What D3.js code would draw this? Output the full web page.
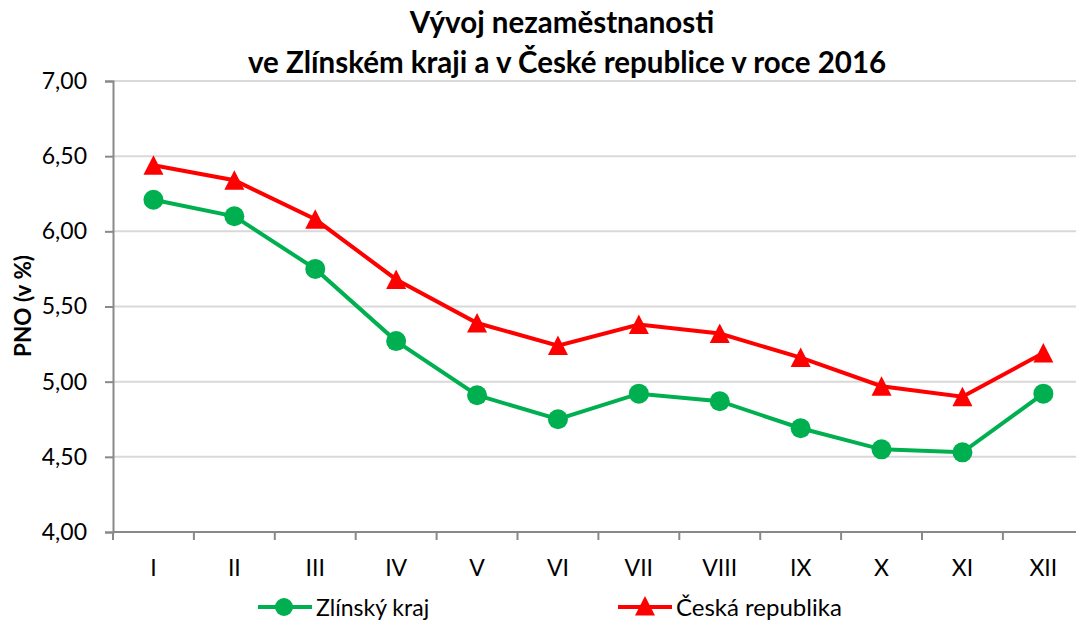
<!DOCTYPE html>
<html>
<head>
<meta charset="utf-8">
<script src="https://cdn.jsdelivr.net/npm/d3@7"></script>
<style>
  body { margin: 0; background: #fff; }
  svg { font-family: Lato, "Open Sans", sans-serif; }
</style>
</head>
<body>
<div id="chart"></div>
<script>
// data
var months = ["I", "II", "III", "IV", "V", "VI", "VII", "VIII", "IX", "X", "XI", "XII"];
var zlinValues = [6.21, 6.10, 5.75, 5.27, 4.91, 4.75, 4.92, 4.87, 4.69, 4.55, 4.53, 4.92];
var czValues = [6.44, 6.34, 6.08, 5.68, 5.39, 5.24, 5.38, 5.32, 5.16, 4.97, 4.90, 5.19];
var yTicks = [4.0, 4.5, 5.0, 5.5, 6.0, 6.5, 7.0];
var seriesNames = ["Zlínský kraj", "Česká republika"];

var svgWidth = 1076;
var svgHeight = 621;

var margin = { top: 81, left: 113, bottom: 89 };
var plotRight = 113 + 12 * 80.9;

var svg = d3.select("#chart")
  .append("svg")
  .attr("width", svgWidth)
  .attr("height", svgHeight);

var x = d3.scaleBand()
  .domain(months)
  .range([margin.left, plotRight]);

var y = d3.scaleLinear()
  .domain([4, 7])
  .range([svgHeight - margin.bottom, margin.top]);

var cz = d3.formatLocale({ decimal: ",", thousands: " ", grouping: [3], currency: ["", " Kč"] });
var fmt = cz.format(".2f");

// gridlines
svg.append("g")
  .selectAll("line")
  .data(yTicks.filter(d => d > 4))
  .enter()
  .append("line")
  .attr("x1", margin.left)
  .attr("x2", plotRight)
  .attr("y1", d => y(d))
  .attr("y2", d => y(d))
  .attr("stroke", "#d9d9d9")
  .attr("stroke-width", 2);

// y axis
var yAxis = svg.append("g")
  .attr("transform", `translate(${margin.left},0)`)
  .call(d3.axisLeft(y).tickValues(yTicks).tickFormat(fmt).tickSize(8).tickPadding(18));
yAxis.select(".domain").attr("stroke", "#898989").attr("stroke-width", 2);
yAxis.selectAll(".tick line").attr("stroke", "#898989").attr("stroke-width", 2);
yAxis.selectAll(".tick text")
  .attr("fill", "#000")
  .style("font-size", "23px")
  .style("font-family", "Lato, sans-serif");

// x axis (ticks between categories, Excel style)
var xAxisG = svg.append("g");
xAxisG.append("line")
  .attr("x1", margin.left)
  .attr("x2", plotRight)
  .attr("y1", y(4))
  .attr("y2", y(4))
  .attr("stroke", "#898989")
  .attr("stroke-width", 2);
xAxisG.selectAll(".xtick")
  .data(months)
  .enter()
  .append("line")
  .attr("class", "xtick")
  .attr("x1", d => x(d))
  .attr("x2", d => x(d))
  .attr("y1", y(4))
  .attr("y2", y(4) + 8)
  .attr("stroke", "#898989")
  .attr("stroke-width", 2);
xAxisG.selectAll(".xlabel")
  .data(months)
  .enter()
  .append("text")
  .attr("class", "xlabel")
  .attr("x", d => x(d) + x.bandwidth() / 2)
  .attr("y", y(4) + 44)
  .attr("text-anchor", "middle")
  .style("font-size", "23px")
  .text(d => d);

// lines
var line = d3.line()
  .x((d, i) => x(months[i]) + x.bandwidth() / 2)
  .y(d => y(d));

svg.append("path")
  .datum(zlinValues)
  .attr("d", line)
  .attr("fill", "none")
  .attr("stroke", "#00b050")
  .attr("stroke-width", 4);

svg.append("path")
  .datum(czValues)
  .attr("d", line)
  .attr("fill", "none")
  .attr("stroke", "#ff0000")
  .attr("stroke-width", 4);

// markers
svg.selectAll(".dotZ")
  .data(zlinValues)
  .enter()
  .append("circle")
  .attr("class", "dotZ")
  .attr("cx", (d, i) => x(months[i]) + x.bandwidth() / 2)
  .attr("cy", d => y(d))
  .attr("r", 10)
  .attr("fill", "#00b050");

var tri = "M0,-10L10,9.5L-10,9.5Z";
svg.selectAll(".triCz")
  .data(czValues)
  .enter()
  .append("path")
  .attr("class", "triCz")
  .attr("d", tri)
  .attr("transform", (d, i) => `translate(${x(months[i]) + x.bandwidth() / 2},${y(d)})`)
  .attr("fill", "#ff0000");

// title
var title = svg.append("text")
  .attr("text-anchor", "middle")
  .style("font-size", "29.5px")
  .style("font-weight", "bold");
title.append("tspan").attr("x", 562).attr("y", 33).text("Vývoj nezaměstnanosti");
title.append("tspan").attr("x", 567).attr("y", 73).text("ve Zlínském kraji a v České republice v roce 2016");

// y axis title
svg.append("text")
  .attr("transform", "translate(31,306) rotate(-90)")
  .attr("text-anchor", "middle")
  .style("font-size", "22.5px")
  .style("font-weight", "bold")
  .text("PNO (v %)");

// legend
var legend = svg.append("g");
legend.append("line").attr("x1", 258).attr("x2", 312).attr("y1", 607).attr("y2", 607)
  .attr("stroke", "#00b050").attr("stroke-width", 4);
legend.append("circle").attr("cx", 284).attr("cy", 607).attr("r", 9).attr("fill", "#00b050");
legend.append("text").attr("x", 316).attr("y", 616).style("font-size", "23px").text(seriesNames[0]);

legend.append("line").attr("x1", 618).attr("x2", 672).attr("y1", 607).attr("y2", 607)
  .attr("stroke", "#ff0000").attr("stroke-width", 4);
legend.append("path").attr("d", tri).attr("transform", "translate(645,606)").attr("fill", "#ff0000");
legend.append("text").attr("x", 676).attr("y", 616).style("font-size", "24px").text(seriesNames[1]);
</script>
</body>
</html>
